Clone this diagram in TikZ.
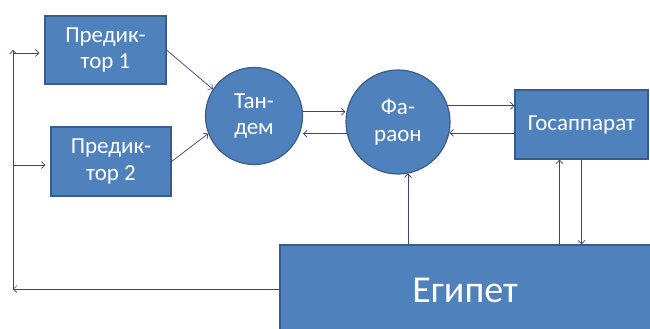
\documentclass[tikz,border=0pt]{standalone}
\usepackage{fontspec}
\setmainfont{Carlito}
\usetikzlibrary{arrows.meta}
\definecolor{boxfill}{RGB}{79,129,189}
\definecolor{boxline}{RGB}{56,93,138}
\definecolor{arrcol}{RGB}{62,62,128}
\tikzset{
  blk/.style={draw=boxline, line width=1.2pt, fill=boxfill, text=white, align=center, inner sep=0pt},
  rbox/.style={blk, rectangle},
  rcirc/.style={blk, circle},
  arr/.style={draw=arrcol, line width=0.7pt, -{Straight Barb[length=3.5pt,width=7pt]}},
  txt/.style={font=\fontsize{23}{26.5}\selectfont}
}
\begin{document}
\begin{tikzpicture}[x=1pt,y=-1pt]
\useasboundingbox (0,0) rectangle (650,329);
\node[rbox, txt, minimum width=121pt, minimum height=68pt] (p1) at (105.5,50) {Предик-\\тор 1};
\node[rbox, txt, minimum width=120pt, minimum height=69pt] (p2) at (111,161.5) {Предик-\\тор 2};
\node[rcirc, txt, minimum size=97pt] (tandem) at (254,116) {Тан-\\дем};
\node[rcirc, txt, minimum size=104pt] (pharaoh) at (398,122) {Фа-\\раон};
\node[rbox, font=\fontsize{23}{27}\selectfont, minimum width=133pt, minimum height=69pt] (gos) at (581.5,124.5) {Госаппарат};
\node[rbox, minimum width=380pt, minimum height=88pt] (egypt) at (470,289) {};
\node[text=white, font=\fontsize{38}{44}\selectfont] (egyptlabel) at (465,290) {Египет};
\coordinate (bl) at (13,289);
\coordinate (tl) at (13,50);
\coordinate (b1) at (13,53);
\coordinate (b2) at (13,165);
% predictors to tandem
\draw[arr] (p1.east) -- (tandem.147);
\draw[arr] (p2.east) -- (tandem.201);
% tandem <-> pharaoh
\draw[arr] (tandem.5) -- (tandem.5 -| pharaoh.west);
\draw[arr] (pharaoh.193) -- (pharaoh.193 -| tandem.east);
% pharaoh <-> gos
\draw[arr] (pharaoh.18) -- (pharaoh.18 -| gos.west);
\draw[arr] (pharaoh.-12 -| gos.west) -- (pharaoh.-12);
% egypt -> pharaoh
\draw[arr] (pharaoh.-79 |- egypt.north) -- (pharaoh.-79);
% gos <-> egypt
\draw[arr] ([xshift=-22pt]gos.south |- egypt.north) -- ([xshift=-22pt]gos.south);
\draw[arr] (gos.south) -- (gos.south |- egypt.north);
% feedback loop
\draw[arr] (egypt.west) -- (bl);
\draw[arr] (bl) -- (tl);
\draw[arr, shorten >=5pt] (b1) -- (b1 -| p1.west);
\draw[arr, shorten >=5pt] (b2) -- (b2 -| p2.west);
\end{tikzpicture}
\end{document}
